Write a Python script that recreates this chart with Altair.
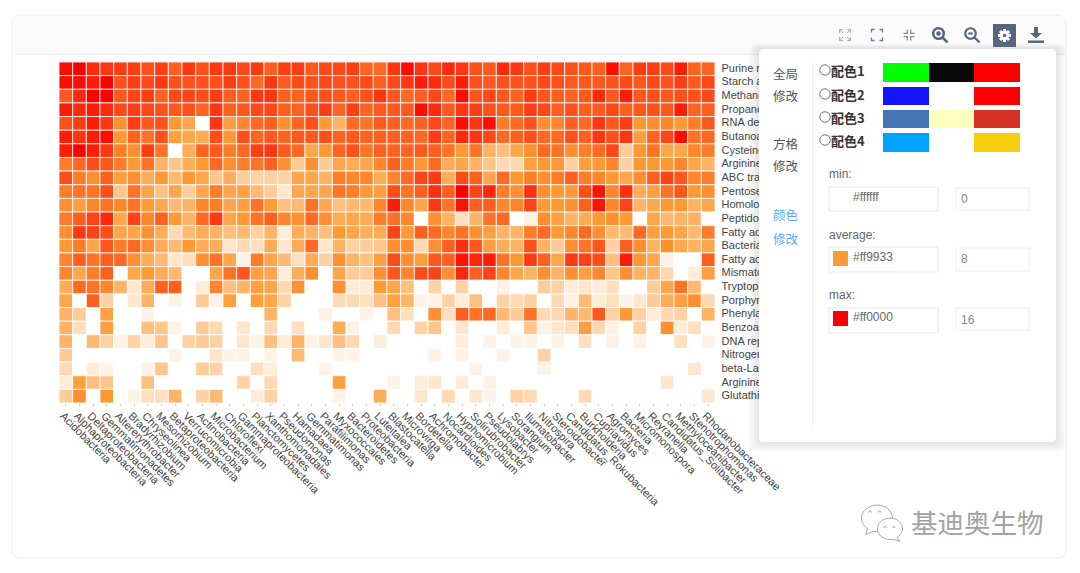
import altair as alt

PATHWAYS = ["Purine metabolism","Starch and sucrose metabolism","Methane metabolism","Propanoate metabolism","RNA degradation","Butanoate metabolism","Cysteine and methionine metabolism","Arginine and proline metabolism","ABC transporters","Pentose phosphate pathway","Homologous recombination","Peptidoglycan biosynthesis","Fatty acid metabolism","Bacterial secretion system","Fatty acid degradation","Mismatch repair","Tryptophan metabolism","Porphyrin and chlorophyll metabolism","Phenylalanine metabolism","Benzoate degradation","DNA replication","Nitrogen metabolism","beta-Lactam resistance","Arginine biosynthesis","Glutathione metabolism"]
TAXA = ["Acidobacteria","Alphaproteobacteria","Deltaproteobacteria","Gemmatimonadetes","Altererythrobacter","Bradyrhizobium","Chryseolinea","Mesorhizobium","Betaproteobacteria","Verrucomicrobia","Actinobacteria","Microbacterium","Chloroflexi","Gammaproteobacteria","Planctomycetes","Xanthomonadales","Pseudomonas","Hamadaea","Gemmatimonas","Parafilimonas","Myxococcales","Bacteroidetes","Proteobacteria","Luteitalea","Blastocatella","Microvirga","Bordetella","Achromobacter","Nocardioides","Hyphomicrobium","Solirubrobacter","Pseudolabrys","Lysobacter","Sorangium","Ilumatobacter","Nitrospira","Steroidobacter","Candidatus_Rokubacteria","Burkholderia","Cupriavidus","Agromyces","Bacteria","Micromonospora","Reyranella","Candidatus_Solibacter","Methyloceanibacter","Stenotrophomonas","Rhodanobacteraceae"]

R00 = [15.3,16,13.8,13.2,12.8,12.8,11.8,12.8,11,13.2,11.8,13.2,13.2,12.3,13.2,11,12.8,12.8,11.4,12.3,12.3,12.8,10.8,10.5,13.2, 15.3,13.2,12.3,13.8,13.2,11.8,11.4,13.8,13.2,11.8,12.8,12.3,11.8,11.4,11,15.3,10.8,12.8,12.8,12.3,14.5,10.8,10.8]
R01 = [15.3,15.3,14.5,16,11.8,12.8,12.3,13.2,11.8,11.8,11.8,11.8,12.8,11.8,10.5,13.2,11.4,12.3,11.8,12.3,11.8,11.8,12.3,11,12.3, 13.2,14.5,13.8,12.3,14.5,11.8,11.4,11.8,11.8,11.8,12.3,11.8,11.4,11.4,11.4,11.8,12.3,11.4,12.3,11.8,12.8,11.4,12.3]
R02 = [11.4,13.8,16,16,11.4,12.3,12.8,10.8,12.3,12.3,11.8,12.8,11,10.8,13.2,13.2,11,10.8,11.4,11.8,11.4,11,11.8,13.2,11.4, 10.5,11,12.3,10.5,15.3,11.4,12.3,11.4,10.8,12.8,11.4,11,10.8,11.4,13.8,11.4,14.5,11.4,11.8,11.4,11.8,11.8,12.3]
R03 = [14.5,13.8,14.5,13.8,12.3,12.8,12.3,11.8,11.4,11.8,10.8,13.2,11,11.4,12.3,12.3,11,11,11.8,12.8,10.8,12.8,10.8,11.4,11.4, 11.4,15.3,13.8,11.4,13.2,12.8,11.8,11.4,11.4,12.8,12.3,11,11.8,11,11.4,12.3,11,11.4,11.8,11.4,14.5,10.8,11]
R04 = [11.8,12.8,14.5,13.2,8.5,12.8,11.4,11.8,8,7,0,13.2,7.5,9,10.5,11,8.5,10.8,11.8,8,6,10.5,10,11.4,11, 10.5,11,12.3,10.8,15.3,13.2,15.3,9.5,10.5,11.8,8.5,9,11,10.5,13.2,11.4,12.8,8,8.5,9,8,9.5,11.4]
R05 = [14.5,13.2,14.5,15.3,8,10.8,10,11.8,7.5,7,6.5,11.8,8,11.8,10.8,11.4,10.8,11.4,11.4,11.8,10.8,11.4,10.8,11,11, 10.8,10.5,12.8,10.8,13.8,13.2,12.3,10.5,11,11.8,10.5,10.5,11.8,11,13.2,11.8,13.2,7.5,10.8,12.3,15.3,10,10.5]
R06 = [14.5,16,14.5,13.2,9.5,8.5,12.8,10,0,6.5,10.8,11.4,9.5,10.5,12.8,13.2,11.4,10.5,7,8,10.8,11.8,10,11,10.8, 10.8,11.4,11,10,8,10,6,5,7,8.5,10.5,10,8.5,9.5,10.5,12.3,4,8,10,7,7,9,9.5]
R07 = [9.5,10.5,12,11.5,9.5,8,10,6,4.5,6.5,8,10.5,8.5,9.5,10,11,8.5,4,8.5,4,7,6.5,7,9,11, 9.5,8,10.5,6.5,7,6,4.5,3,3,7.5,8,8,3.5,7.5,8,9,3.5,8,8,8,9,7,6]
R08 = [12,9.5,8.5,11,7.5,8.5,6.5,8,5.5,8,7,4.5,6.5,4,3.5,3.5,3.5,7,7,6,9.5,9,9,6.5,9, 10.5,12.5,13,6.5,12,11,7,10.5,8,9.5,8.5,9.5,11,9.5,9,8,7,8.5,11,12.5,11.5,9,9.5]
R09 = [9.5,10,10,12,4.5,10,7,5,7,4,7,9.5,7,7.5,5.5,4,2,7,7,7,10,9.5,8,7.5,12, 10,11,13.5,11,16,12.5,14,9.5,8.5,13.5,8.5,8,8,12,15,9,13.5,6.5,7.5,10,11.5,8,8.5]
R10 = [8.5,7.5,9,10,9,10,8,7,5.5,6,9,9.5,7,7.5,10,8,5,5.5,10,7,5,5.5,5.5,9,14.5, 9,7,13,10,15,11,11,9,9,12.5,8,8,8.5,11,15,9,12.5,6,7,8,8,6,7]
R11 = [9.5,11,12.5,14,7,12.5,9,11,8,6,10.5,13,7,8,10,11,9,8.5,10.5,8.5,6.5,7,6.5,9.5,10, 9,0,8.5,6,2.5,6,10,10.5,0,1,8.5,7.5,6,6.5,8,8.5,8,0,7,5.5,6,6,0]
R12 = [8.5,13,12.5,12,7,7,8.5,6.5,3,5.5,6.5,6,5,5.5,3.5,6,1.5,6.5,6,5,8,7,6.5,6.5,12.5, 8,11,10.5,9,10,8.5,7.5,6,6,9.5,10.5,8,9,10.5,8.5,5.5,5.5,10.5,7.5,8,7,5.5,9.5]
R13 = [8,9.5,7,11.5,9.5,10.5,8.5,6.5,5.5,8,6.5,6.5,2,3,2.5,6.5,2,6.5,10.5,2,6,3.5,4,4.5,8.5, 8.5,3,8.5,11,13.5,11.5,7.5,6.5,6,12,6,4,8.5,10,11.5,3.5,11,8.5,6,8.5,7,6,7]
R14 = [9,11,10,11,10.5,8.5,6.5,5.5,2,2.5,8.5,10,7,1,9.5,7,5.5,2.5,6.5,3.5,8.5,6,5,7.5,12, 8.5,7.5,11.5,11,15,14,14.5,10,8,13,11,7,13,12.5,12,5,14.5,8,7,1,0,0,11]
R15 = [9,7,9.5,11,0,7,8,6.5,5.5,0,0,7,10,11.5,7.5,7,1.5,6.5,8.5,0,7,4,4,8.5,11.5, 9,12,12.5,8.5,14,11,12.5,9,7,6,8.5,6,8.5,7.5,9,4.5,8.5,6,6,3,0,1.5,7.5]
R16 = [6.5,10.5,10,9,6,2,6.5,11,11,0,1.5,9,5,6,7.5,7,3,8.5,0,0,8.5,1.5,1.5,8,7, 5,0,3.5,0,3.5,0,0,1,0,0,4,3.5,1.5,2,1.5,2.5,0,0,4,7,10,5.5,0]
R17 = [7,0,11,3.5,0,2,6,0,1,0,4,1,7.5,0,7.5,7,3.5,0,0,0,3,3,2.5,5,7.5, 6,1,1,3.5,1.5,5,0,3.5,3,3.5,0,3,1,5.5,1.5,2.5,1,2,4,6.5,7.5,8.5,3]
R18 = [6,4,0,7.5,0,0,1,0,0,0,0,0,0,0,0,6,0,0,0,1,0,0,1,0,5, 2.5,0,8.5,2.5,11,10,10.5,5.5,4,10,3,3,6,5.5,11.5,3.5,8,3.5,1.5,3,3.5,0,6]
R19 = [6,2.5,0,7.5,0,0,5,4.5,1,0,4,3,0,2,0,3,0,2.5,0,0,6.5,1,0,0,3, 0,3.5,4.5,0,2,0,0,1.5,0,4.5,1,2,2.5,7.5,3,1,0,3.5,0,8.5,1.5,2.5,0]
R20 = [6,0,5.5,3.5,1,3.5,1.5,4.5,0,3.5,4,3.5,0,2,1,5,1.5,6,1,2,5,3,0,1.5,0, 0,0,0,0,1.5,0,1,0,1,1,0,1,0,2.5,0,1,0,1,0,0,2.5,0,1]
R21 = [4,0,0,0,0,0,0,0,1,0,0,2,1,1,0,1,0,5.5,0,0,1,1,0,0,0, 0,0,1,0,1,0,0,1,0,0,3.5,0,0,0,0,0,0,0,0,0,0,0,0]
R22 = [3,0,1.5,1,0,0,1,4.5,0,0,4,3.5,0,0,2.5,1.5,0,0,0,1,0,0,0,0,0, 0,0,0,0,0,1,0,0,0,0,1,0,0,0,0,0,0,0,0,0,0,2,0]
R23 = [1.5,7.5,5,4.5,0,0,5,0,0,0,0,0,0,3.5,0,3,0,0,0,0,7.5,0,0,0,1, 0,1.5,2,0,1.5,0,1,0,0,0,0,0,0,0,0,0,0,0,0,2,0,0,0]
R24 = [4,8.5,0,8,0,1,2.5,2.5,6,0,3.5,5.5,0,0,1.5,3.5,0,0,0,0,1,0,0,6.5,0, 0,2,0,3,0,2,1,0,3.5,3,0,0,0,3,0,0,0,0,0,0,0,0,2]
MATRIX = [R00,R01,R02,R03,R04,R05,R06,R07,R08,R09,R10,R11,R12,R13,R14,R15,R16,R17,R18,R19,R20,R21,R22,R23,R24]

SCHEME_ROWS = [["#00ff00","#0a0a0a","#ff0000"],["#1414ff","#ffffff","#ff0000"],["#4575b4","#ffffbf","#d73027"],["#00a2ff","#ffffff","#f7cd10"]]

table = [{"pathway": p, "taxon": t, "value": v} for p, row in zip(PATHWAYS, MATRIX) for t, v in zip(TAXA, row)]

OX, OY = 59, 62  # plot origin on the page
CJK = "Noto Sans CJK SC"
SANS = "Liberation Sans"
EMPTY = alt.Data(values=[{"k": 0}])

def box(x0, y0, x1, y1, **kw):
    return alt.Chart(EMPTY).mark_rect(**kw).encode(
        x=alt.value(x0 - OX), x2=alt.value(x1 - OX), y=alt.value(y0 - OY), y2=alt.value(y1 - OY))

def label(s, x, y, **kw):
    kw.setdefault("align", "left")
    kw.setdefault("baseline", "middle")
    return alt.Chart(EMPTY).mark_text(text=s, **kw).encode(x=alt.value(x - OX), y=alt.value(y - OY))

def icon(path, x, y, s, **kw):
    kw.setdefault("opacity", 1)
    return alt.Chart(EMPTY).mark_point(shape=path, size=s * s, **kw).encode(x=alt.value(x - OX), y=alt.value(y - OY))

back = [
    box(12, 15, 1066, 55, fill="#fafafa", cornerRadiusTopLeft=8, cornerRadiusTopRight=8),
    box(12, 15, 1066, 558, fillOpacity=0, stroke="#eeeeee", strokeWidth=1, cornerRadius=8),
    box(12, 54, 1066, 55, fill="#f0f0f0"),
]

heat = alt.Chart(alt.Data(values=table)).mark_rect(stroke="white", strokeWidth=0.8).encode(
    x=alt.X("taxon:N", sort=TAXA, scale=alt.Scale(paddingInner=0, paddingOuter=0), title=None,
            axis=alt.Axis(orient="bottom", labelAngle=45, labelAlign="left", labelBaseline="top", labelFont=SANS,
                          labelFontSize=11, labelColor="#444444", labelOverlap=False, labelLimit=300, labelPadding=4,
                          labelFlush=False, tickColor="#d8d8d8", tickSize=3, domain=False, grid=False, zindex=0)),
    y=alt.Y("pathway:N", sort=PATHWAYS, scale=alt.Scale(paddingInner=0, paddingOuter=0), title=None,
            axis=alt.Axis(orient="right", labelFont=SANS, labelFontSize=11, labelColor="#444444", labelOverlap=False,
                          labelExpr="substring(datum.label, 0, 8)", labelLimit=300, labelPadding=6,
                          ticks=False, domain=False, grid=False, zindex=0)),
    color=alt.Color("value:Q", legend=None, scale=alt.Scale(domain=[0, 8, 16], range=["#ffffff", "#ff9933", "#ff0000"], interpolate="rgb")),
)

panel = []
for i in range(5, 0, -1):
    panel.append(box(759 - i * 2, 49 - i, 1056 + i * 2, 442 + i * 2, fill="#000000", fillOpacity=0.018, cornerRadius=6))
panel.append(box(759, 49, 1056, 442, fill="#ffffff", fillOpacity=1, cornerRadius=4))
panel.append(box(812, 63, 813, 430, fill="#eeeeee"))

for s, y, col in [("全局", 75, "#555555"), ("修改", 97, "#555555"), ("方格", 145, "#555555"), ("修改", 167, "#555555"), ("颜色", 216, "#62a8f5"), ("修改", 240, "#62a8f5")]:
    panel.append(label(s, 773, y, font=CJK, fontSize=12.5, color=col))

SW_X = [883, 929, 974, 1020]
SW_Y = [(63, 82), (87, 105), (110, 128), (133, 152)]
RADIO_Y = [70, 94, 117, 140]
for i, (cols, (y0, y1), ry) in enumerate(zip(SCHEME_ROWS, SW_Y, RADIO_Y)):
    panel.append(icon("circle", 825, ry, 10.5, filled=False, stroke="#777777", strokeWidth=1))
    panel.append(label(f"配色{i + 1}", 831, ry + 2, font=CJK, fontSize=13, fontWeight="bold", color="#333333"))
    for j, c in enumerate(cols):
        panel.append(box(SW_X[j], y0, SW_X[j + 1], y1, fill=c))

FIELDS = [("min:", 174, 187, 211, 188, 210, None, "#ffffff", "0", 197, 199),
          ("average:", 235, 247, 272, 248, 271, "#ff9933", "#ff9933", "8", 257, 259),
          ("max:", 295, 308, 333, 308, 330, "#ff0000", "#ff0000", "16", 317, 320)]
for name, ly, a0, a1, b0, b1, chip, code, num, cy, ny in FIELDS:
    panel.append(label(name, 829, ly, font=SANS, fontSize=12, color="#666666"))
    panel.append(box(829, a0, 938, a1, fill="white", stroke="#e6e6e6"))
    panel.append(box(956, b0, 1029, b1, fill="white", stroke="#eeeeee"))
    if chip:
        panel.append(box(833, cy - 6, 848, cy + 9, fill=chip))
    panel.append(label(code, 853, cy, font=SANS, fontSize=12, color="#666666"))
    panel.append(label(num, 961, ny, font=SANS, fontSize=12, color="#888888"))

SLATE = "#57657f"
tools = [
    icon("M-1 -0.4V-1H-0.4M-1 -1L-0.35 -0.35M0.4 -1H1V-0.4M1 -1L0.35 -0.35M1 0.4V1H0.4M1 1L0.35 0.35M-0.4 1H-1V0.4M-1 1L-0.35 0.35", 845, 35, 11, filled=False, stroke="#aaaaaa", strokeWidth=1),
    icon("M-1 -0.45V-1H-0.45M0.45 -1H1V-0.45M1 0.45V1H0.45M-0.45 1H-1V0.45", 877, 35, 11, filled=False, stroke="#707a8a", strokeWidth=1.3),
    icon("M-1 -0.3H-0.3V-1M0.3 -1V-0.3H1M1 0.3H0.3V1M-0.3 1V0.3H-1", 909, 35, 11, filled=False, stroke="#888f9b", strokeWidth=1.3),
    icon("M0.5 -0.2A0.7 0.7 0 1 1 -0.9 -0.2A0.7 0.7 0 1 1 0.5 -0.2M0.32 0.32L1 1M-0.5 -0.2H0.1M-0.2 -0.5V0.1", 940, 35, 15, filled=False, stroke=SLATE, strokeWidth=2.6),
    icon("M0.5 -0.2A0.7 0.7 0 1 1 -0.9 -0.2A0.7 0.7 0 1 1 0.5 -0.2M0.32 0.32L1 1M-0.5 -0.2H0.1", 972, 35, 15, filled=False, stroke=SLATE, strokeWidth=2.2),
    box(993, 24, 1016, 47, fill=SLATE),
    icon("M0.5 0A0.5 0.5 0 1 1 -0.5 0A0.5 0.5 0 1 1 0.5 0M0 -1V-0.5M0 1V0.5M-1 0H-0.5M1 0H0.5M-0.7 -0.7L-0.35 -0.35M0.7 -0.7L0.35 -0.35M-0.7 0.7L-0.35 0.35M0.7 0.7L0.35 0.35", 1004.5, 35.5, 13, filled=False, stroke="white", strokeWidth=3),
    icon("M-0.25 -1H0.25V-0.25H0.75L0 0.45L-0.75 -0.25H-0.25ZM-1 0.7H1V1H-1Z", 1036, 35, 16, filled=True, fill=SLATE),
]

watermark = [
    icon("M1 -0.05A1 0.85 0 1 0 -0.62 0.62L-0.72 1L-0.25 0.8A1 0.85 0 0 0 1 -0.05Z", 877, 519, 31, filled=True, fill="white", stroke="#a8a8a8", strokeWidth=1),
    icon("M-0.55 -0.42A0.1 0.1 0 1 1 -0.35 -0.42M0.05 -0.42A0.1 0.1 0 1 1 0.25 -0.42", 877, 519, 31, filled=False, stroke="#9a9a9a", strokeWidth=1),
    icon("M-1 0A1 0.85 0 1 1 0.55 0.68L0.8 1L0.25 0.82A1 0.85 0 0 1 -1 0Z", 890, 529, 25, filled=True, fill="white", stroke="#a8a8a8", strokeWidth=1),
    icon("M-0.5 -0.1A0.1 0.1 0 1 1 -0.3 -0.1M0.2 -0.1A0.1 0.1 0 1 1 0.4 -0.1", 890, 529, 25, filled=False, stroke="#9a9a9a", strokeWidth=1),
    label("基迪奥生物", 911, 525, font=CJK, fontSize=26.5, fontWeight=400, color="#a2a2a2"),
]

chart = alt.layer(*back, heat, *panel, *tools, *watermark).properties(
    width=656, height=341,
    padding={"left": OX - 8, "top": OY - 8, "right": 357, "bottom": 162},
    autosize=alt.AutoSizeParams(type="none"),
    background="white",
).configure_view(stroke=None)

chart.save("out.html", embed_options={"renderer": "svg", "actions": False})
